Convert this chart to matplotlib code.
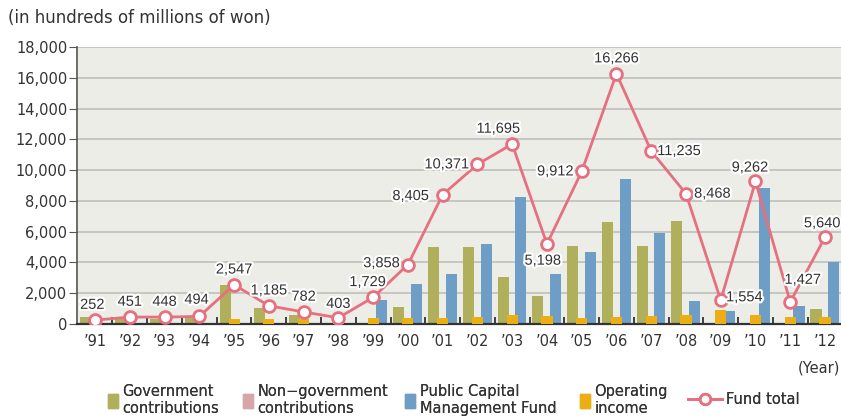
import numpy as np
import matplotlib.pyplot as plt
import matplotlib.patheffects as pe
from matplotlib.lines import Line2D

# data (hundreds of millions of won)
years = ["’91", "’92", "’93", "’94", "’95", "’96", "’97", "’98", "’99", "’00", "’01",
         "’02", "’03", "’04", "’05", "’06", "’07", "’08", "’09", "’10", "’11", "’12"]
gov = [450, 350, 350, 400, 2540, 1040, 590, 0, 0, 1130, 5020,
       5020, 3060, 1840, 5070, 6630, 5070, 6700, 0, 0, 0, 1000]
nongov = [0] * 22
pcmf = [0, 0, 0, 0, 0, 0, 0, 0, 1560, 2600, 3260,
        5210, 8270, 3250, 4680, 9450, 5910, 1500, 850, 8860, 1170, 4050]
oper = [0, 0, 0, 0, 320, 320, 330, 200, 390, 390, 390,
        450, 585, 520, 410, 450, 520, 590, 930, 590, 450, 450]
total = [252, 451, 448, 494, 2547, 1185, 782, 403, 1729, 3858, 8405,
         10371, 11695, 5198, 9912, 16266, 11235, 8468, 1554, 9262, 1427, 5640]

# label offsets (points) for the fund total values
offs = [(-2, 11), (0, 11), (0, 11), (-2, 12), (0, 11), (0, 11), (0, 11), (0, 10), (-4, 11),
        (-19, 1), (-23, -1), (-22, 0), (-10, 11), (-3, -12), (-19, 0), (0, 11), (20, 0),
        (19, 0), (17, 2), (-4, 10), (9, 16), (-2, 10)]

plt.rcParams['font.family'] = 'DejaVu Sans'
txtc = '#333333'
cgov, cnon, cpc, cop, cline = '#B0AF5C', '#D7A6A8', '#6E9DC6', '#EBAE14', '#E6707F'

fig = plt.figure(figsize=(8.41, 4.17), dpi=100)
ax = fig.add_axes([77/841, 1-324/417, 1-77/841, 277/417])
ax.set_facecolor('#EDEDE8')

x = np.arange(len(years))
w = 0.32
ax.bar(x - 0.26, gov, w, color=cgov, zorder=2)
ax.bar(x, nongov, w, color=cnon, zorder=2)
ax.bar(x + 0.25, pcmf, w, color=cpc, zorder=2)
ax.bar(x, oper, w, color=cop, zorder=3)

ax.plot(x, total, color=cline, lw=2, marker='o', ms=8.5, mfc='white',
        mec=cline, mew=2, zorder=4)
for i, v in enumerate(total):
    ax.annotate(f"{v:,}", (x[i], v), xytext=offs[i], textcoords='offset points',
                ha='center', va='center', fontsize=10.5, color=txtc, zorder=5,
                family='Liberation Sans',
                path_effects=[pe.withStroke(linewidth=3, foreground='white')])

ax.set_xlim(-0.52, 21.46)
ax.set_ylim(0, 18000)
ax.set_yticks(np.arange(0, 18001, 2000))
ax.set_yticklabels([f"{v:,}" for v in range(0, 18001, 2000)], fontsize=10.5, color=txtc)
ax.yaxis.grid(True, color='#C2C2C2', lw=1.3, zorder=0)
ax.set_axisbelow(True)
ax.set_xticks(x)
ax.set_xticklabels(years, fontsize=10.5, color=txtc)
ax.tick_params(axis='x', length=0, pad=7)
ax.set_xticks(x[:-1] + 0.5, minor=True)
ax.tick_params(axis='x', which='minor', direction='in', length=5, width=1.2, color='#222222')
ax.tick_params(axis='y', length=6, pad=1, color='#555555')
for s in ['top', 'right']:
    ax.spines[s].set_visible(False)
ax.spines['left'].set_color('#555555')
ax.spines['left'].set_linewidth(1.2)
ax.spines['bottom'].set_color('#333333')
ax.spines['bottom'].set_linewidth(1.6)

fig.text(8/841, 1-18/417, "(in hundreds of millions of won)", fontsize=12, color=txtc, va='center')
fig.text(840/841, 1-368/417, "(Year)", fontsize=10.5, color=txtc, ha='right', va='center')

# legend, one entry at a time to keep the spacing of the original
labels = ["Government\ncontributions", "Non−government\ncontributions",
          "Public Capital\nManagement Fund", "Operating\nincome", "Fund total"]
handles = [plt.Rectangle((0, 0), 1, 1, color=c) for c in [cgov, cnon, cpc, cop]]
handles.append(Line2D([], [], color=cline, lw=2, marker='o', ms=7.5, mfc='white', mew=2))
lx = [108, 243, 405, 580, 688]
for i in range(5):
    hl = 2.3 if i == 4 else 0.7
    lg = fig.legend([handles[i]], [labels[i]], loc='center left',
                    bbox_to_anchor=(lx[i]/841, 1-400/417), frameon=False, fontsize=10.5,
                    handlelength=hl, handleheight=1.0, handletextpad=0.3,
                    borderpad=0, borderaxespad=0, labelspacing=0.1, labelcolor=txtc)
    fig.add_artist(lg)

fig.savefig('out.png', dpi=100)
